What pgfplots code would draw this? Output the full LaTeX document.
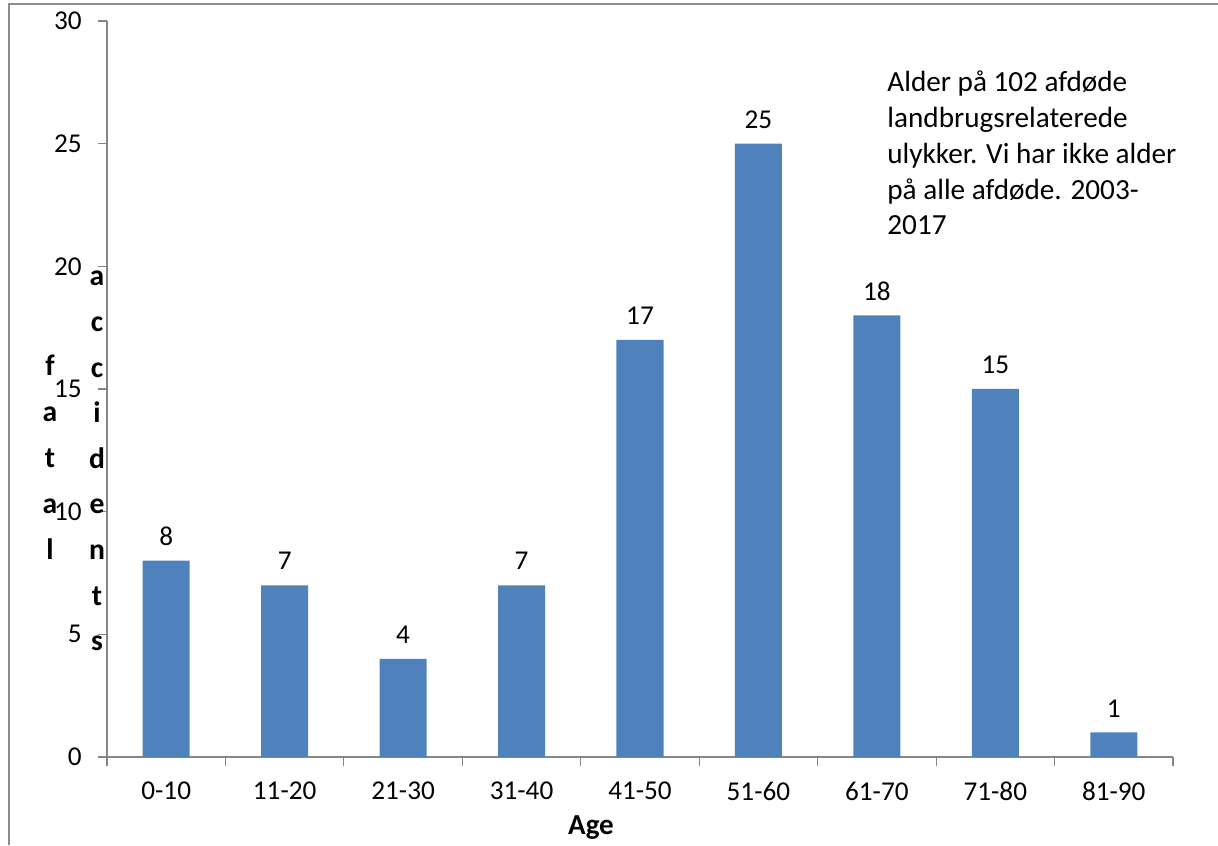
\documentclass[border=0pt]{standalone}
\usepackage{pgfplots}
\pgfplotsset{compat=1.18}
\usepackage{fontspec}
\setmainfont{Carlito}
\definecolor{barblue}{HTML}{4F81BD}
\definecolor{axisgray}{HTML}{868686}
\definecolor{framegray}{HTML}{8C8C8C}

\begin{document}
\begin{tikzpicture}[x=1pt,y=1pt]
  % page = 1218 x 845 px, 1 px = 0.5pt
  \useasboundingbox (0,0) rectangle (609,422.5);
  \draw[framegray, line width=1pt] (4.5,0) -- (4.5,420.5) -- (609,420.5);

  \begin{axis}[
      at={(53.5pt,44pt)}, anchor=south west,
      scale only axis,
      width=533pt, height=368pt,
      ybar, bar width=23.5pt,
      xmin=-0.5, xmax=8.5,
      ymin=0, ymax=30,
      ytick={0,5,...,30},
      xtick={0,...,8},
      xticklabels={0-10,11-20,21-30,31-40,41-50,51-60,61-70,71-80,81-90},
      minor xtick={-0.5,0.5,...,8.5},
      axis x line=bottom, axis y line=left,
      axis line style={-, draw=axisgray, line width=0.6pt},
      tick align=outside,
      major tick length=4.5pt, minor tick length=4.5pt,
      every major x tick/.style={draw=none},
      every minor x tick/.style={draw=axisgray, line width=0.6pt},
      every major y tick/.style={draw=axisgray, line width=0.6pt},
      tick label style={font=\fontsize{13.6}{15}\selectfont},
      yticklabel style={anchor=east, inner sep=0pt, xshift=-8pt},
      xticklabel style={anchor=center, inner sep=0pt, yshift=-12.5pt},
      /pgf/number format/assume math mode=true,
      nodes near coords,
      every node near coord/.append style={font=\fontsize{13.6}{15}\selectfont, anchor=center, yshift=12pt},
    ]
    \addplot[fill=barblue, draw=none] coordinates {
      (0,8) (1,7) (2,4) (3,7) (4,17) (5,25) (6,18) (7,15) (8,1)};
  \end{axis}

  \node[font=\bfseries\fontsize{14.5}{16}\selectfont] at (295.5,8.5) {Age};
  \node[font=\bfseries\fontsize{14.8}{23}\selectfont, align=center, inner sep=0pt] at (25,194) {f\\a\\t\\a\\l};
  \node[font=\bfseries\fontsize{14.8}{22.8}\selectfont, align=center, inner sep=0pt] at (48.5,192) {a\\c\\c\\i\\d\\e\\n\\t\\s};
  \node[font=\fontsize{14.6}{17.9}\selectfont, align=left, anchor=base west, inner sep=0pt] at (443.5,305)
    {Alder på 102 afdøde\\landbrugsrelaterede\\ulykker. Vi har ikke alder\\på alle afdøde. 2003-\\2017};
\end{tikzpicture}
\end{document}
